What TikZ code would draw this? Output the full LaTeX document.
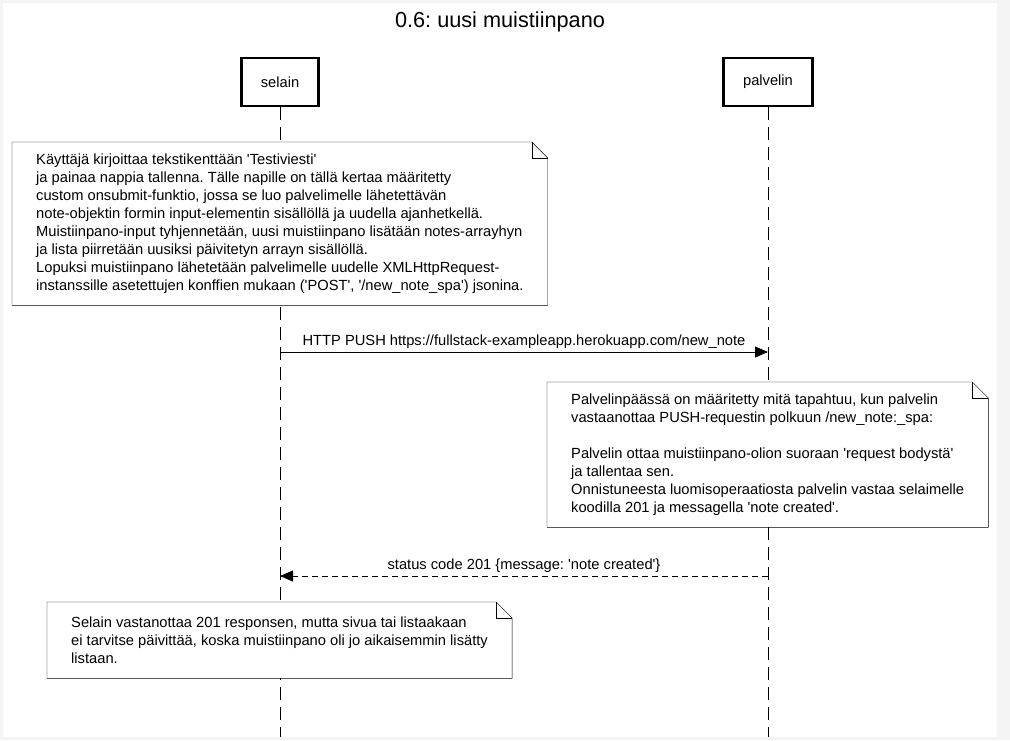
\documentclass[tikz,border=0pt]{standalone}
\usepackage{fontspec}
\setmainfont{Liberation Sans}
\usetikzlibrary{arrows.meta}

\definecolor{pagegray}{HTML}{F4F4F4}
\newcommand{\sq}{\textquotesingle}
\newcommand{\notebox}[1]{%
  \draw (#1.north west) -- ([xshift=-16pt]#1.north east) -- ([yshift=-16pt]#1.north east) -- (#1.south east) -- (#1.south west) -- cycle;
  \draw ([xshift=-16pt]#1.north east) |- ([yshift=-16pt]#1.north east);}

\tikzset{
  actor/.style={rectangle, draw, line width=2.5pt, inner xsep=19.5pt, minimum height=48pt, font=\fontsize{14.7}{16}\selectfont},
  lifeline/.style={dash pattern=on 13pt off 7pt, line width=1pt},
  note/.style={rectangle, fill=white, inner xsep=24pt, anchor=north west, align=left, font=\fontsize{14.7}{18}\selectfont},
  msg/.style={-{Triangle[length=13pt,width=11pt]}, line width=1pt},
  reply/.style={msg, dash pattern=on 6pt off 4pt},
  label/.style={above=0pt, font=\fontsize{14.7}{16}\selectfont},
}

\begin{document}
\frenchspacing
\begin{tikzpicture}[x=1pt, y=-1pt]
\fill[pagegray] (0,0) rectangle (1010,740);
\fill[white] (3,3) rectangle (997,737);

\node[font=\fontsize{21.7}{24}\selectfont] (title) at (500,22) {0.6: uusi muistiinpano};

\node[actor] (selain)   at (280,82) {selain};
\node[actor] (palvelin) at (768,82) {palvelin};
\coordinate (selain end)   at (280,737);
\coordinate (palvelin end) at (768,737);
\draw[lifeline] (selain) -- (selain end);
\draw[lifeline] (palvelin) -- (palvelin end);

\node[note, minimum height=163pt] (typing) at (12,142) {%
K\"aytt\"aj\"a kirjoittaa tekstikentt\"a\"an \sq Testiviesti\sq\\
ja painaa nappia tallenna. T\"alle napille on t\"all\"a kertaa m\"a\"aritetty\\
custom onsubmit-funktio, jossa se luo palvelimelle l\"ahetett\"av\"an\\
note-objektin formin input-elementin sis\"all\"oll\"a ja uudella ajanhetkell\"a.\\
Muistiinpano-input tyhjennet\"a\"an, uusi muistiinpano lis\"at\"a\"an notes-arrayhyn\\
ja lista piirret\"a\"an uusiksi p\"aivitetyn arrayn sis\"all\"oll\"a.\\
Lopuksi muistiinpano l\"ahetet\"a\"an palvelimelle uudelle XMLHttpRequest-\\
instanssille asetettujen konffien mukaan (\sq POST\sq, \sq/new\_note\_spa\sq) jsonina.};
\notebox{typing}

\coordinate (push from) at (280,352);
\coordinate (push to)   at (768,352);
\draw[msg] (push from) -- node[label] {HTTP PUSH https://fullstack-exampleapp.herokuapp.com/new\_note} (push to);

\node[note, minimum height=145pt] (server) at (547,382) {%
Palvelinp\"a\"ass\"a on m\"a\"aritetty mit\"a tapahtuu, kun palvelin\\
vastaanottaa PUSH-requestin polkuun /new\_note:\_spa:\\[18pt]
Palvelin ottaa muistiinpano-olion suoraan \sq request bodyst\"a\sq\\
ja tallentaa sen.\\
Onnistuneesta luomisoperaatiosta palvelin vastaa selaimelle\\
koodilla 201 ja messagella \sq note created\sq.};
\notebox{server}

\coordinate (reply from) at (768,576);
\coordinate (reply to)   at (280,576);
\draw[reply] (reply from) -- node[label] {status code 201 \{message: \sq note created\sq\}} (reply to);

\node[note, minimum height=76pt] (done) at (47,602) {%
Selain vastanottaa 201 responsen, mutta sivua tai listaakaan\\
ei tarvitse p\"aivitt\"a\"a, koska muistiinpano oli jo aikaisemmin lis\"atty\\
listaan.};
\notebox{done}
\end{tikzpicture}
\end{document}
